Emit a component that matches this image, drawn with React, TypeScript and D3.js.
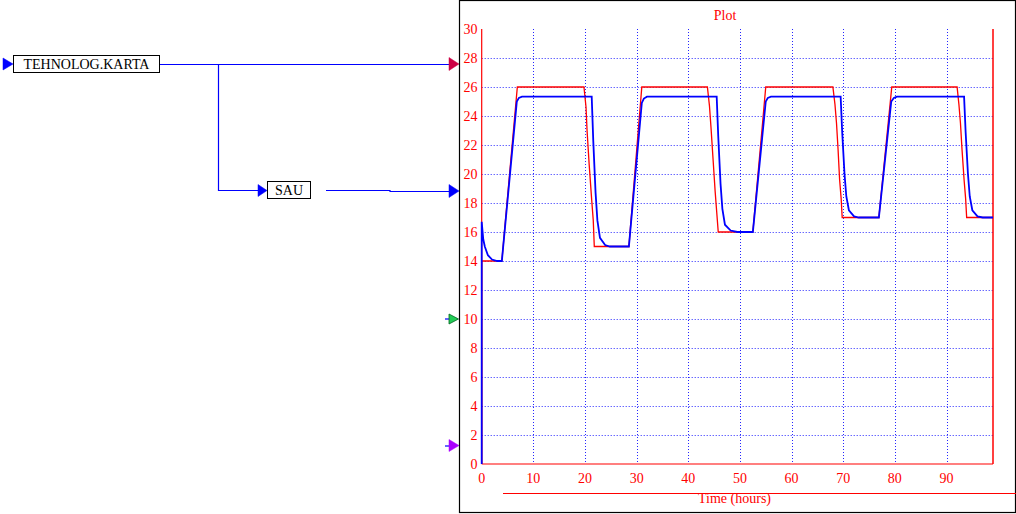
import React from "react";
import * as d3 from "d3";

const redSeries: [number, number][] = [
  [0, 0], [0, 14], [3.9, 14], [6.9, 26], [19.8, 26], [20.2, 24.6], [20.4, 23.0], [20.8, 20.7], [21.3, 18.2], [21.6, 16.8], [21.8, 15],
  [28.5, 15], [31.0, 26], [43.7, 26], [44.1, 24.7], [44.4, 23.2], [44.8, 21.0], [45.2, 18.8], [45.5, 17.4], [45.8, 16],
  [52.5, 16], [55.0, 26], [68.0, 26], [68.4, 24.8], [68.7, 23.5], [69.0, 21.7], [69.3, 19.6], [69.6, 18.3], [69.8, 17],
  [76.9, 17], [79.4, 26], [92.05, 26], [92.4, 24.8], [92.7, 23.5], [93.0, 21.7], [93.4, 19.6], [93.7, 18.3], [93.9, 17],
  [99, 17],
];

const blueSeries: [number, number][] = [
  [0, 0], [0, 16.7], [0.3, 15.5], [0.6, 15.0], [1.2, 14.4], [2.0, 14.1], [3.0, 14.0], [3.9, 14.0],
  [6.8, 25.0], [7.2, 25.25], [7.8, 25.33], [21.3, 25.33], [21.6, 22.3], [22.05, 18.7], [22.4, 16.8], [22.9, 15.6], [23.9, 15.1], [24.8, 15.0],
  [28.5, 15.0], [31.0, 24.9], [31.4, 25.2], [32.0, 25.33], [45.5, 25.33], [45.8, 22.6], [46.25, 19.3], [46.6, 17.6], [47.1, 16.5], [48.2, 16.1], [49.5, 16.0],
  [52.5, 16.0], [55.0, 25.0], [55.4, 25.25], [56.0, 25.33], [69.5, 25.33], [69.8, 22.9], [70.25, 20.0], [70.6, 18.45], [71.1, 17.5], [72.1, 17.08], [73.0, 17.0],
  [76.9, 17.0], [79.3, 25.0], [79.8, 25.25], [80.4, 25.33], [93.4, 25.33], [93.7, 22.9], [94.15, 20.0], [94.5, 18.45], [95.0, 17.5], [96.0, 17.08], [97.0, 17.0],
  [99, 17.0],
];

const xTicks = [0, 10, 20, 30, 40, 50, 60, 70, 80, 90];
const yTicks = [0, 2, 4, 6, 8, 10, 12, 14, 16, 18, 20, 22, 24, 26, 28, 30];
const xGrid = [10, 20, 30, 40, 50, 60, 70, 80, 90];
const yGrid = [2, 4, 6, 8, 10, 12, 14, 16, 18, 20, 22, 24, 26, 28];

const plotTitle = "Plot";
const xTitle = "Time (hours)";
const block1 = "TEHNOLOG.KARTA";
const block2 = "SAU";

const RED = "#ff0000";
const BLUE = "#0000ff";
const FONT = "Liberation Serif, DejaVu Serif, serif";
const tStyle = { fontFamily: FONT };

function Arrow({ x, y, color, w = 9, h = 12 }: { x: number; y: number; color: string; w?: number; h?: number }) {
  return <path d={`M${x},${y - h / 2} L${x + w},${y} L${x},${y + h / 2} Z`} fill={color} stroke={color} strokeWidth={0.5} />;
}

export default function App() {
  const x = d3.scaleLinear().domain([0, 99]).range([481.7, 993]);
  const y = d3.scaleLinear().domain([0, 30]).range([464, 29]);
  const line = d3.line<[number, number]>().x((d) => x(d[0])).y((d) => y(d[1]));

  return (
    <svg width={1016} height={514} style={{ position: "absolute", left: 0, top: 0, background: "#fff" }}>
      <rect x={0} y={0} width={1016} height={514} fill="#fff" />
      {/* block diagram */}
      <Arrow x={3} y={64} color={BLUE} w={10} h={12} />
      <rect x={13.5} y={55.5} width={146} height={17} fill="#fff" stroke="#000" strokeWidth={1} />
      <text x={86.5} y={69} textAnchor="middle" fontSize={14} fill="#000" style={tStyle}>{block1}</text>
      <path d="M160,64.5 H450" stroke={BLUE} strokeWidth={1.2} fill="none" />
      <path d="M218.5,64 V190.5 H258" stroke={BLUE} strokeWidth={1.2} fill="none" />
      <Arrow x={258} y={190.5} color={BLUE} w={9} h={12} />
      <rect x={267.5} y={181.5} width={43} height={17} fill="#fff" stroke="#000" strokeWidth={1} />
      <text x={289} y={195} textAnchor="middle" fontSize={14} fill="#000" style={tStyle}>{block2}</text>
      <path d="M326,190.5 H390 V191.5 H450" stroke={BLUE} strokeWidth={1.2} fill="none" />
      <Arrow x={449} y={64} color="#cc0044" w={10} h={13} />
      <Arrow x={449} y={191} color={BLUE} w={10} h={13} />
      <path d="M445,319 H449" stroke={BLUE} strokeWidth={1.2} />
      <path d="M449,314 L458.5,319 L449,324 Z" fill="#22cc55" stroke="#006622" strokeWidth={0.8} />
      <path d="M445,446 H449" stroke={BLUE} strokeWidth={1.2} />
      <Arrow x={449} y={445.5} color="#aa00ff" w={10} h={12} />

      {/* plot frame */}
      <rect x={459.5} y={0.5} width={556} height={512} fill="none" stroke="#000" strokeWidth={1.2} />

      <text x={725} y={20} textAnchor="middle" fontSize={14} fill={RED} style={tStyle}>{plotTitle}</text>

      {/* grid */}
      {xGrid.map((t) => (
        <line key={"gx" + t} x1={Math.round(x(t)) + 0.5} x2={Math.round(x(t)) + 0.5} y1={y(30)} y2={y(0)} stroke={BLUE} strokeWidth={1} strokeDasharray="1,2" opacity={0.85} />
      ))}
      {yGrid.map((t) => (
        <line key={"gy" + t} x1={x(0)} x2={x(99)} y1={Math.round(y(t)) + 0.5} y2={Math.round(y(t)) + 0.5} stroke={BLUE} strokeWidth={1} strokeDasharray="1,2" opacity={0.85} />
      ))}

      {/* axes */}
      <line x1={x(0)} x2={x(0)} y1={y(30)} y2={y(0)} stroke={RED} strokeWidth={1.2} />
      <line x1={x(99)} x2={x(99)} y1={y(30)} y2={y(0)} stroke={RED} strokeWidth={1.5} />
      <line x1={x(0)} x2={x(99)} y1={y(0)} y2={y(0)} stroke={RED} strokeWidth={1.2} />

      {yTicks.map((t) => (
        <text key={"ty" + t} x={477.5} y={y(t)} dy="0.35em" textAnchor="end" fontSize={14} fill={RED} style={tStyle}>{t}</text>
      ))}
      {xTicks.map((t) => (
        <text key={"tx" + t} x={x(t)} y={483} textAnchor="middle" fontSize={14} fill={RED} style={tStyle}>{t}</text>
      ))}

      {/* series */}
      <path d={line(redSeries) || ""} fill="none" stroke={RED} strokeWidth={1.3} />
      <path d={line(blueSeries) || ""} fill="none" stroke={BLUE} strokeWidth={1.8} />

      {/* x title */}
      <line x1={503} x2={1016} y1={493.5} y2={493.5} stroke={RED} strokeWidth={1.2} />
      <text x={734.5} y={503} textAnchor="middle" fontSize={14} fill={RED} style={tStyle}>{xTitle}</text>
    </svg>
  );
}
